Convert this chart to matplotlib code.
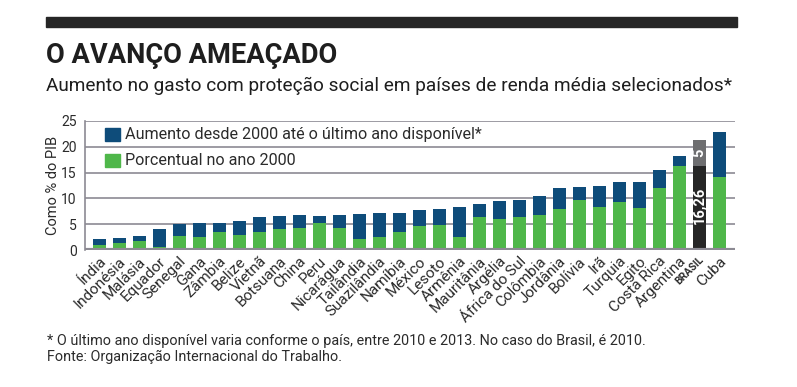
import matplotlib
matplotlib.use("Agg")
import matplotlib.pyplot as plt
import numpy as np
from matplotlib.patches import Rectangle

countries = ["Índia", "Indonésia", "Malásia", "Equador", "Senegal", "Gana", "Zâmbia",
             "Belize", "Vietnã", "Botsuana", "China", "Peru", "Nicarágua", "Tailândia",
             "Suazilândia", "Namíbia", "México", "Lesoto", "Armênia", "Mauritânia",
             "Argélia", "África do Sul", "Colômbia", "Jordânia", "Bolívia", "Irã",
             "Turquia", "Egito", "Costa Rica", "Argentina", "BRASIL", "Cuba"]
base_2000 = [1.0, 1.4, 1.8, 0.6, 2.8, 2.6, 3.5, 3.0, 3.5, 4.1, 4.3, 5.3, 4.3, 2.2,
             2.6, 3.5, 4.7, 4.8, 2.5, 6.4, 6.0, 6.4, 6.8, 7.9, 9.7, 8.3, 9.3, 8.1,
             12.0, 16.3, 16.26, 14.1]
total_last = [2.1, 2.4, 2.7, 4.1, 5.1, 5.3, 5.3, 5.7, 6.3, 6.5, 6.8, 6.6, 6.8, 7.0,
              7.2, 7.2, 7.8, 7.9, 8.3, 8.9, 9.5, 9.7, 10.5, 12.0, 12.2, 12.4, 13.2,
              13.2, 15.5, 18.2, 21.26, 22.8]
yticks = [0, 5, 10, 15, 20, 25]
legend_labels = ["Aumento desde 2000 até o último ano disponível*", "Porcentual no ano 2000"]

BLUE = "#0e4c7a"
GREEN = "#4fb74a"
DARK = "#262626"
GRAY = "#6e6e70"
GRID = "#8c8a93"
TXT = "#2b2b2b"

BODY = ["Roboto", "DejaVu Sans"]
NARROW = ["DejaVu Sans Condensed", "Roboto", "DejaVu Sans"]

fig = plt.figure(figsize=(7.97, 3.87), dpi=100)
W, H = 797, 387
ax = fig.add_axes([85 / W, 1 - 250 / H, 650 / W, 129 / H])

x = np.arange(len(countries))
base = np.array(base_2000)
inc = np.array(total_last) - base
is_br = np.array([c == "BRASIL" for c in countries])

for t in yticks[1:]:
    ax.axhline(t, color=GRID, lw=1.2, zorder=0)

bw = 0.65
ax.bar(x[~is_br], base[~is_br], width=bw, color=GREEN, zorder=2)
ax.bar(x[~is_br], inc[~is_br], bottom=base[~is_br], width=bw, color=BLUE, zorder=2)
ax.bar(x[is_br], base[is_br], width=bw, color=DARK, zorder=2)
ax.bar(x[is_br], inc[is_br], bottom=base[is_br], width=bw, color=GRAY, zorder=2)

bi = int(np.where(is_br)[0][0])
ax.text(bi, base[bi] / 2 + 0.5, f"{base_2000[bi]:.2f}".replace(".", ","), rotation=90,
        ha="center", va="center", color="white", fontsize=10.5, fontweight="bold",
        family=BODY, zorder=3)
ax.text(bi, base[bi] + inc[bi] / 2, f"{inc[bi]:.0f}", rotation=90, ha="center",
        va="center", color="white", fontsize=10.5, fontweight="bold", family=BODY, zorder=3)

ax.axhline(0, color=GRID, lw=3, zorder=4)
ax.set_xlim(-0.7, len(countries) - 0.2)
ax.set_ylim(0, 25)
for s in ["top", "right", "bottom"]:
    ax.spines[s].set_visible(False)
ax.spines["left"].set_color(GRID)
ax.spines["left"].set_linewidth(1.2)
ax.set_yticks(yticks)
ax.set_yticklabels([str(t) for t in yticks], family=BODY, fontsize=10, color=TXT)
ax.tick_params(axis="y", length=0, pad=6)
ax.tick_params(axis="x", length=0, pad=3)
ax.set_xticks(x)
ax.set_xticklabels(countries, rotation=45, ha="right", rotation_mode="anchor",
                   family=BODY, fontsize=11, color=TXT)
for lbl in ax.get_xticklabels():
    if lbl.get_text() == "BRASIL":
        lbl.set_fontweight("bold")
        lbl.set_fontsize(7.5)
ax.set_ylabel("Como % do PIB", family=BODY, fontsize=10.5, color=TXT, labelpad=1)

renderer = fig.canvas.get_renderer()


def fit(t, target_px):
    w = t.get_window_extent(renderer=renderer).width
    t.set_fontsize(t.get_fontsize() * target_px / w)


# legend
for i, (lab, col) in enumerate(zip(legend_labels, [BLUE, GREEN])):
    y0 = 141 + i * 26
    fig.patches.append(Rectangle((105 / W, 1 - y0 / H), 15 / W, 13 / H,
                                 transform=fig.transFigure, color=col, zorder=5))
    t = fig.text(125 / W, 1 - (y0 - 6.5) / H, lab, family=BODY, fontsize=11.5, color=TXT,
                 va="center", ha="left", zorder=6)
    if i == 0:
        fit(t, 360)
        legsize = t.get_fontsize()
    else:
        t.set_fontsize(legsize)

# header
fig.patches.append(Rectangle((46 / W, 1 - 27 / H), 691 / W, 10 / H,
                             transform=fig.transFigure, color="#262626"))
tt = fig.text(46 / W, 1 - 63 / H, "O AVANÇO AMEAÇADO", family=NARROW, fontsize=22,
              fontweight="bold", color="#1e1e1e", va="baseline", ha="left")
fit(tt, 290)
st = fig.text(46 / W, 1 - 91 / H,
              "Aumento no gasto com proteção social em países de renda média selecionados*",
              family=NARROW, fontsize=15, color="#1e1e1e", va="baseline", ha="left")
fit(st, 687)

f1 = fig.text(47 / W, 1 - 345 / H,
              "* O último ano disponível varia conforme o país, entre 2010 e 2013. No caso do Brasil, é 2010.",
              family=BODY, fontsize=10, color=TXT, va="baseline", ha="left")
fit(f1, 598)
f2 = fig.text(47 / W, 1 - 361 / H, "Fonte: Organização Internacional do Trabalho.",
              family=BODY, fontsize=f1.get_fontsize(), color=TXT, va="baseline", ha="left")

fig.savefig("out.png", dpi=100)
